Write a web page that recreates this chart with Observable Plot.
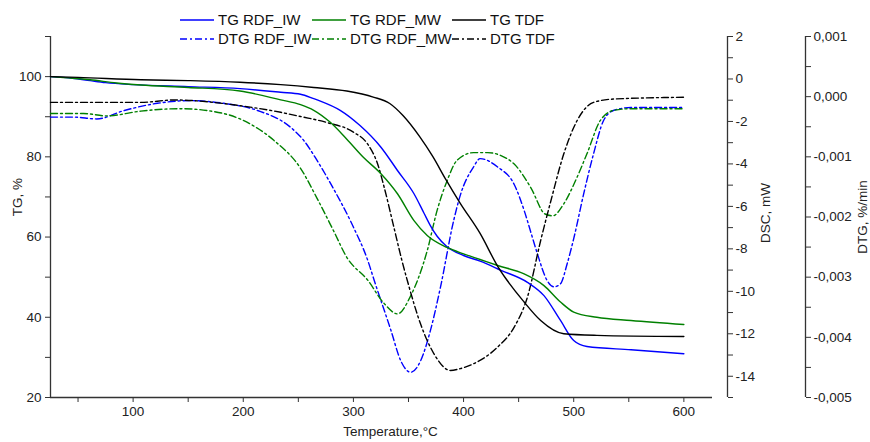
<!DOCTYPE html>
<html><head><meta charset="utf-8">
<script src="https://cdn.jsdelivr.net/npm/d3@7"></script>
<script src="https://cdn.jsdelivr.net/npm/@observablehq/plot@0.6"></script>
<style>
body{margin:0;background:#fff;}
#wrap{position:relative;width:870px;height:442px;overflow:hidden;font-family:"Liberation Sans",Arial,sans-serif;}
#legend{position:absolute;left:0;top:0;}
</style></head><body>
<div id="wrap"><div id="chart"></div><svg id="legend" width="870" height="50"></svg></div>
<script>
// ---- data (temperature °C, TG %) ----
const tTG_IW = [25,45,61,75,100,150,197,234,252,264,270,288,306,325,340,355,364,370,376,385,400,415,434,458,473,488,500,512,552,600];
const vTG_IW = [100,99.6,99.0,98.5,98.0,97.5,97.0,96.1,95.6,94.5,93.9,91.6,87.8,82.4,76.6,70.8,66.0,62.8,60.2,57.6,55.4,54.0,51.7,48.7,45.4,39.2,34.2,32.7,31.9,30.9];
const tTG_MW = [25,45,61,85,107,150,197,234,252,264,279,294,309,325,340,355,367,385,400,415,431,455,473,488,500,521,552,600];
const vTG_MW = [100,99.6,99.2,98.4,97.9,97.3,96.4,94.2,93.0,91.6,88.6,84.4,79.9,75.8,70.8,64.1,60.4,57.4,55.8,54.4,52.9,50.8,47.9,43.8,41.3,40.0,39.2,38.2];
const tTG_TDF = [25,50,107,150,197,234,264,294,318,333,345,360,372,384,397,415,431,455,470,491,521,600];
const vTG_TDF = [100,99.8,99.2,99.0,98.6,98.0,97.3,96.4,94.9,93.3,90.3,85.1,80.1,74.3,68.4,60.9,52.7,43.8,39.2,35.9,35.5,35.2];
// ---- DTG (%/min) ----
const tDTG_IW = [25,46,67,92,122,152,182,213,243,255,267,281,299,313,319,334,343,352,361,370,379,391,397,409,415,431,446,455,462,467,476,482,488,494,500,509,518,527,536,552,600];
const vDTG_IW = [-0.00034,-0.00034,-0.00037,-0.00023,-0.00011,-0.000066,-0.00011,-0.00023,-0.00051,-0.00073,-0.00106,-0.0015,-0.00213,-0.00272,-0.00306,-0.00388,-0.00439,-0.00458,-0.00439,-0.00388,-0.00317,-0.00206,-0.00164,-0.00117,-0.00103,-0.00117,-0.00146,-0.00189,-0.00231,-0.00261,-0.00306,-0.00316,-0.00311,-0.00278,-0.00236,-0.00162,-0.00095,-0.0004,-0.00023,-0.00018,-0.00018];
const tDTG_MW = [25,55,76,107,143,167,197,228,252,267,282,294,313,328,340,352,367,376,385,394,409,422,434,446,461,474,481,491,503,512,524,536,552,600];
const vDTG_MW = [-0.00028,-0.00028,-0.00032,-0.00024,-0.0002,-0.00023,-0.00037,-0.00073,-0.00119,-0.00169,-0.00223,-0.00267,-0.00305,-0.00344,-0.00361,-0.00331,-0.00256,-0.00189,-0.0014,-0.00106,-0.00093,-0.00093,-0.00098,-0.00112,-0.00151,-0.00195,-0.00198,-0.00178,-0.00134,-0.00095,-0.0004,-0.00023,-0.0002,-0.0002];
const tDTG_TDF = [25,107,137,197,234,252,276,300,313,322,328,337,344,349,361,373,388,397,409,431,446,458,470,479,491,503,518,536,600];
const vDTG_TDF = [-0.000095,-0.000095,-0.000055,-0.00015,-0.00026,-0.00033,-0.00043,-0.00059,-0.00079,-0.00112,-0.00151,-0.00219,-0.00272,-0.00306,-0.00378,-0.00427,-0.00455,-0.00452,-0.00444,-0.00416,-0.00383,-0.00333,-0.00239,-0.00175,-0.00095,-0.0004,-0.000095,-0.00004,-0.00001];

// ---- axes ----
const xDomain = [25, 626];
const tgDomain = [20, 110];
const dscDomain = [-15, 2];
const dtgDomain = [-0.005, 0.001];
const xTicks = [100,200,300,400,500,600];
const xMinor = [50,150,250,350,450,550];
const tgTicks = [20,40,60,80,100];
const tgMinor = [30,50,70,90,110];
const dscTicks = [-14,-12,-10,-8,-6,-4,-2,0,2];
const dscMinor = [-15,-13,-11,-9,-7,-5,-3,-1,1];
const dtgTicks = [-0.005,-0.004,-0.003,-0.002,-0.001,0,0.001];
const dtgMinor = [-0.0045,-0.0035,-0.0025,-0.0015,-0.0005,0.0005];
const axisTitles = ["Temperature,°C", "TG, %", "DSC, mW", "DTG, %/min"];

const names = ["TG RDF_IW","TG RDF_MW","TG TDF","DTG RDF_IW","DTG RDF_MW","DTG TDF"];
const colors = ["#0000ff","#008000","#000000","#0000ff","#008000","#000000"];
const DASH = "7,3,2,3";

const span = (d) => (tgDomain[1]-tgDomain[0]) / (d[1]-d[0]);
const dscToY = d => tgDomain[0] + (d - dscDomain[0]) * span(dscDomain);
const yToDsc = y => dscDomain[0] + (y - tgDomain[0]) / span(dscDomain);
const dtgToY = v => tgDomain[0] + (v - dtgDomain[0]) * span(dtgDomain);
const yToDtg = y => dtgDomain[0] + (y - tgDomain[0]) / span(dtgDomain);

function rows(name, ts, vs, conv) {
  return ts.map((t, i) => ({name, t, y: conv(vs[i])}));
}
const id = v => v;
const tgRows = [
  ...rows("TG RDF_IW", tTG_IW, vTG_IW, id),
  ...rows("TG RDF_MW", tTG_MW, vTG_MW, id),
  ...rows("TG TDF", tTG_TDF, vTG_TDF, id)
];
const dtgRows = [
  ...rows("DTG RDF_IW", tDTG_IW, vDTG_IW, dtgToY),
  ...rows("DTG RDF_MW", tDTG_MW, vDTG_MW, dtgToY),
  ...rows("DTG TDF", tDTG_TDF, vDTG_TDF, dtgToY)
];

const fmtDsc = y => String(Math.round(yToDsc(y)));
const fmtDtg = y => { let v = yToDtg(y); if (Math.abs(v) < 1e-9) v = 0; return v.toFixed(3).replace(".", ","); };

const DX1 = 15, DX2 = 93;
const ax = {stroke: "#333", label: null};
const chart = Plot.plot({
  width: 870, height: 442,
  marginLeft: 50, marginRight: 158, marginTop: 36, marginBottom: 45,
  style: {fontSize: "13.5px", fontFamily: "'Liberation Sans', Arial, sans-serif", color: "#222", background: "#fff"},
  x: {domain: xDomain, axis: null},
  y: {domain: tgDomain, axis: null},
  color: {domain: names, range: colors},
  marks: [
    Plot.ruleY([tgDomain[0]], {stroke: "#333", strokeWidth: 1.3}),
    Plot.ruleX([xDomain[0]], {stroke: "#333", strokeWidth: 1.3}),
    Plot.ruleX([xDomain[1]], {dx: DX1, stroke: "#333", strokeWidth: 1.3}),
    Plot.ruleX([xDomain[1]], {dx: DX2, stroke: "#333", strokeWidth: 1.3}),
    Plot.axisX({...ax, ticks: xTicks, tickSize: 5, tickPadding: 4, tickFormat: d => String(d)}),
    Plot.axisX({...ax, ticks: xMinor, tickSize: 5, tickFormat: () => ""}),
    Plot.axisY({...ax, anchor: "left", ticks: tgTicks, tickSize: 5, tickPadding: 4, tickFormat: d => String(d)}),
    Plot.axisY({...ax, anchor: "left", ticks: tgMinor, tickSize: 5, tickFormat: () => ""}),
    Plot.axisY({...ax, anchor: "right", ticks: dscTicks.map(dscToY), tickSize: 5, tickPadding: 3, tickFormat: fmtDsc, dx: DX1}),
    Plot.axisY({...ax, anchor: "right", ticks: dscMinor.map(dscToY), tickSize: 5, tickFormat: () => "", dx: DX1}),
    Plot.axisY({...ax, anchor: "right", ticks: dtgTicks.map(dtgToY), tickSize: 5, tickPadding: 3, tickFormat: fmtDtg, dx: DX2}),
    Plot.axisY({...ax, anchor: "right", ticks: dtgMinor.map(dtgToY), tickSize: 5, tickFormat: () => "", dx: DX2}),
    Plot.line(dtgRows, {x: "t", y: "y", z: "name", stroke: "name", strokeWidth: 1.4, strokeDasharray: DASH, curve: "monotone-x"}),
    Plot.line(tgRows, {x: "t", y: "y", z: "name", stroke: "name", strokeWidth: 1.4, curve: "monotone-x"}),
    Plot.text([axisTitles[0]], {frameAnchor: "bottom", textAnchor: "middle", dx: 9, dy: 38, fontSize: 13.5, fill: "#222"}),
    Plot.text([axisTitles[1]], {frameAnchor: "left", textAnchor: "middle", rotate: -90, dx: -33, dy: -20, fontSize: 13.5, fill: "#222"}),
    Plot.text([axisTitles[2]], {frameAnchor: "right", textAnchor: "middle", rotate: -90, dx: 53, dy: -4, fontSize: 13.5, fill: "#222"}),
    Plot.text([axisTitles[3]], {frameAnchor: "right", textAnchor: "middle", rotate: -90, dx: 150, dy: 0, fontSize: 13.5, fill: "#222"})
  ]
});
document.getElementById("chart").appendChild(chart);

// ---- legend ----
const lg = d3.select("#legend");
const colX = [180, 312, 452], rowY = [20, 39];
names.forEach((n, i) => {
  const cx = colX[i % 3], cy = rowY[Math.floor(i / 3)];
  lg.append("line").attr("x1", cx).attr("x2", cx + 34).attr("y1", cy).attr("y2", cy)
    .attr("stroke", colors[i]).attr("stroke-width", 1.4)
    .attr("stroke-dasharray", i >= 3 ? DASH : null);
  lg.append("text").attr("x", cx + 38).attr("y", cy).attr("dy", "0.35em")
    .attr("font-size", 15).attr("font-family", "'Liberation Sans', Arial, sans-serif")
    .attr("fill", "#111").text(n);
});
</script>
</body></html>
